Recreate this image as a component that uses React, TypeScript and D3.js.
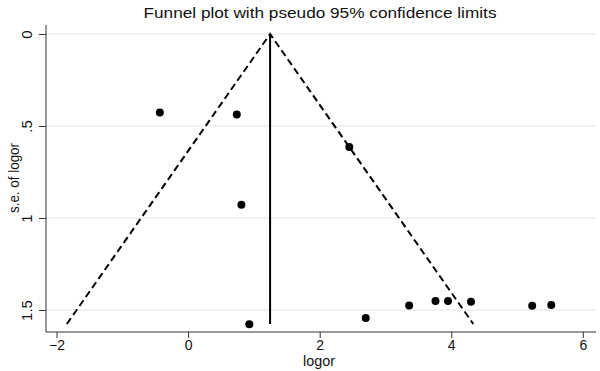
import React, { useEffect, useRef } from 'react';
import * as d3 from 'd3';

// study estimates (logor) and their standard errors
const logor = [-0.43, 0.74, 0.81, 2.45, 0.93, 2.70, 3.36, 3.76, 3.95, 4.30, 5.23, 5.52];
const seLogor = [0.426, 0.438, 0.928, 0.614, 1.578, 1.543, 1.475, 1.451, 1.451, 1.455, 1.477, 1.473];
const pooled = 1.246;
const seMax = 1.576;
const xTicks = [-2, 0, 2, 4, 6];
const yTicks = [0, 0.5, 1, 1.5];
const yTickLabels = ['0', '.5', '1', '1.5'];

const W = 600, H = 371;

export default function App() {
    const ref = useRef<SVGSVGElement>(null);

    useEffect(() => {
        const svg = d3.select(ref.current);
        svg.selectAll('*').remove();
        const font = 'Liberation Sans, Arial, sans-serif';

        const x = d3.scaleLinear().domain([-2.16, 6.2]).range([46, 596]);
        const y = d3.scaleLinear().domain([0, 1.5]).range([34, 310]);
        const bottom = 332;

        svg.append('rect').attr('width', W).attr('height', H).attr('fill', '#fff');

        // grid lines
        svg.selectAll('line.grid').data(yTicks).enter().append('line')
            .attr('x1', 46).attr('x2', 596)
            .attr('y1', d => y(d)).attr('y2', d => y(d))
            .attr('stroke', '#e8f0f2').attr('stroke-width', 1.5);

        // axes
        const xAxis = svg.append('g').attr('transform', `translate(0,${bottom})`)
            .call(d3.axisBottom(x).tickValues(xTicks).tickSize(6).tickSizeOuter(0).tickFormat(d3.format('d')));
        xAxis.select('.domain').attr('d', `M46,0H596`).attr('stroke', '#333');
        xAxis.selectAll('.tick line').attr('stroke', '#333');
        xAxis.selectAll('.tick text').attr('font-family', font).attr('font-size', 14).attr('fill', '#111')
            .attr('y', 8).attr('dy', '0.72em');

        const yAxis = svg.append('g').attr('transform', 'translate(46,0)')
            .call(d3.axisLeft(y).tickValues(yTicks).tickSize(7).tickFormat((d, i) => yTickLabels[i]));
        yAxis.select('.domain').attr('d', `M0,25V${bottom}`).attr('stroke', '#333');
        yAxis.selectAll('.tick line').attr('stroke', '#333');
        yAxis.selectAll('.tick text')
            .attr('font-family', font).attr('font-size', 15).attr('fill', '#111')
            .attr('x', 0).attr('dy', 0)
            .attr('text-anchor', 'middle')
            .attr('transform', 'translate(-14,0) rotate(-90)');

        // pseudo 95% limits
        const lo = pooled - 1.96 * seMax, hi = pooled + 1.96 * seMax;
        const line = d3.line<[number, number]>().x(d => x(d[0])).y(d => y(d[1]));
        svg.append('path')
            .attr('d', line([[lo, seMax], [pooled, 0], [hi, seMax]]))
            .attr('fill', 'none').attr('stroke', '#000').attr('stroke-width', 2)
            .attr('stroke-dasharray', '7,4');
        svg.append('line')
            .attr('x1', x(pooled)).attr('x2', x(pooled))
            .attr('y1', y(0)).attr('y2', y(seMax))
            .attr('stroke', '#000').attr('stroke-width', 2);

        // studies
        svg.selectAll('circle.pt').data(logor).enter().append('circle')
            .attr('cx', d => x(d)).attr('cy', (d, i) => y(seLogor[i]))
            .attr('r', 4).attr('fill', '#000');

        // titles
        svg.append('text').attr('x', 320).attr('y', 18).attr('text-anchor', 'middle')
            .attr('font-family', font).attr('font-size', 14).attr('fill', '#111')
            .attr('textLength', 353).attr('lengthAdjust', 'spacingAndGlyphs')
            .text('Funnel plot with pseudo 95% confidence limits');
        svg.append('text').attr('x', 319).attr('y', 366).attr('text-anchor', 'middle')
            .attr('font-family', font).attr('font-size', 14).attr('fill', '#111')
            .attr('textLength', 32).attr('lengthAdjust', 'spacingAndGlyphs')
            .text('logor');
        svg.append('text').attr('transform', 'translate(19,178) rotate(-90)').attr('text-anchor', 'middle')
            .attr('font-family', font).attr('font-size', 14).attr('fill', '#111')
            .attr('textLength', 70).attr('lengthAdjust', 'spacingAndGlyphs')
            .text('s.e. of logor');
    }, []);

    return (
        <svg ref={ref} width={W} height={H} style={{ position: 'absolute', left: 0, top: 0 }} />
    );
}
